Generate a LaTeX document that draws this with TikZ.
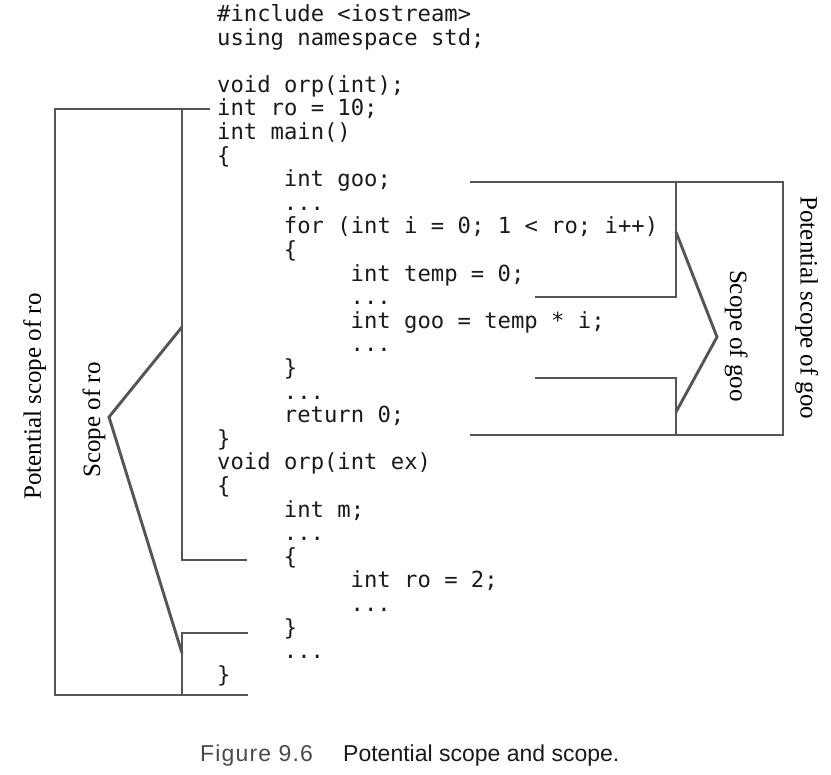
\documentclass[tikz,border=0pt]{standalone}
\usepackage{fontspec}
\setmainfont{Liberation Serif}
\setsansfont{Liberation Sans}
\setmonofont{DejaVu Sans Mono}
\definecolor{rule}{HTML}{555555}
\definecolor{ink}{HTML}{1A1A1A}
\definecolor{capgray}{HTML}{4A4A4A}
\begin{document}
\begin{tikzpicture}[x=1pt, y=-1pt,
    every node/.style={inner sep=0pt},
    code/.style={anchor=base west, text=ink, font=\ttfamily\fontsize{22.2}{23.6}\selectfont},
    side label/.style={anchor=base, font=\fontsize{25}{25}\selectfont},
    caption/.style={anchor=base west, font=\sffamily\fontsize{23}{23}\selectfont},
    bracket/.style={draw=rule, line width=2.9pt, line join=miter},
    ]
\useasboundingbox (0,0) rectangle (831,775);
% program text
\node[code] (inc) at (217,21.6) {\#include <iostream>};
\node[code] (ns) at (217,45.2) {using namespace std;};
\node[code] (decl) at (217,92.4) {void orp(int);};
\node[code] (ro) at (217,116.0) {int ro = 10;};
\node[code] (main) at (217,139.6) {int main()};
\node[code] (mainopen) at (217,163.2) {\{};
\node[code] (goo) at (283.75,186.8) {int goo;};
\node[code] (dotsA) at (283.75,210.4) {...};
\node[code] (for) at (283.75,234.0) {for (int i = 0; 1 < ro; i++)};
\node[code] (foropen) at (283.75,257.6) {\{};
\node[code] (temp) at (350.5,281.2) {int temp = 0;};
\node[code] (dotsB) at (350.5,304.8) {...};
\node[code] (gooin) at (350.5,328.4) {int goo = temp * i;};
\node[code] (dotsC) at (350.5,352.0) {...};
\node[code] (forclose) at (283.75,375.6) {\}};
\node[code] (dotsD) at (283.75,399.2) {...};
\node[code] (ret) at (283.75,422.8) {return 0;};
\node[code] (mainclose) at (217,446.4) {\}};
\node[code] (orp) at (217,470.0) {void orp(int ex)};
\node[code] (orpopen) at (217,493.6) {\{};
\node[code] (m) at (283.75,517.2) {int m;};
\node[code] (dotsE) at (283.75,540.8) {...};
\node[code] (blockopen) at (283.75,564.4) {\{};
\node[code] (roin) at (350.5,588.0) {int ro = 2;};
\node[code] (dotsF) at (350.5,611.6) {...};
\node[code] (blockclose) at (283.75,635.2) {\}};
\node[code] (dotsG) at (283.75,658.8) {...};
\node[code] (orpclose) at (217,682.4) {\}};
% scope of ro
\coordinate (roTop) at (210,109);
\coordinate (roCorner) at (55,109);
\coordinate (roFoot) at (55,695);
\coordinate (roEnd) at (248,695);
\coordinate (roIn) at (182,109);
\coordinate (roInFoot) at (182,560);
\coordinate (roInEnd) at (247,560);
\coordinate (roLow) at (248,633);
\coordinate (roLowIn) at (182,633);
\coordinate (roLowFoot) at (182,695);
\coordinate (roTipA) at (182,327);
\coordinate (roApex) at (109,417);
\coordinate (roTipB) at (182,653);
\draw[bracket] (roTop) -- (roCorner) -- (roFoot) -- (roEnd);
\draw[bracket] (roIn) -- (roInFoot) -- (roInEnd);
\draw[bracket] (roLow) -- (roLowIn) -- (roLowFoot);
\draw[bracket] (roTipA) -- (roApex) -- (roTipB);
\node[side label, rotate=90] (potro) at (41,396.5) {Potential scope of ro};
\node[side label, rotate=90] (scopero) at (100,420) {Scope of ro};
% scope of goo
\coordinate (gooTop) at (470,182);
\coordinate (gooCorner) at (783,182);
\coordinate (gooFoot) at (783,435);
\coordinate (gooEnd) at (470,435);
\coordinate (gooIn) at (676,182);
\coordinate (gooInFoot) at (676,297);
\coordinate (gooInEnd) at (535,297);
\coordinate (gooLow) at (535,378);
\coordinate (gooLowIn) at (676,378);
\coordinate (gooLowFoot) at (676,435);
\coordinate (gooTipA) at (676,232);
\coordinate (gooApex) at (717,337);
\coordinate (gooTipB) at (676,412);
\draw[bracket] (gooTop) -- (gooCorner) -- (gooFoot) -- (gooEnd);
\draw[bracket] (gooIn) -- (gooInFoot) -- (gooInEnd);
\draw[bracket] (gooLow) -- (gooLowIn) -- (gooLowFoot);
\draw[bracket] (gooTipA) -- (gooApex) -- (gooTipB);
\node[side label, rotate=-90] (scopegoo) at (730,336) {Scope of goo};
\node[side label, rotate=-90] (potgoo) at (800.5,308) {Potential scope of goo};
% caption
\node[caption, text=capgray] (fignum) at (200,761) {\addfontfeature{LetterSpace=5}Figure 9.6};
\node[caption, text=ink] (figtext) at (343,761) {Potential scope and scope.};
\end{tikzpicture}
\end{document}
